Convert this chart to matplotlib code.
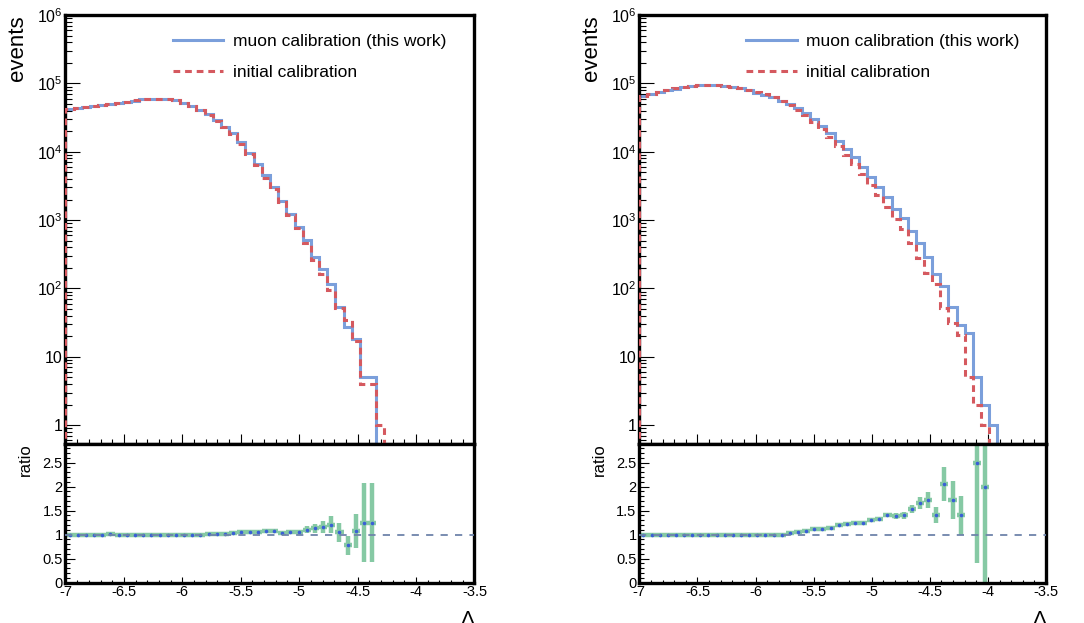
import numpy as np
import matplotlib
matplotlib.use('Agg')
import matplotlib.pyplot as plt
from matplotlib.lines import Line2D
from matplotlib.ticker import LogLocator, MultipleLocator, FuncFormatter, NullFormatter

plt.rcParams['font.family'] = ['Liberation Sans', 'DejaVu Sans']
plt.rcParams['axes.unicode_minus'] = False
plt.rcParams['mathtext.default'] = 'regular'

# 50 bins of 0.07 in Lambda
LAMBDA_RANGE = (-7.0, -3.5)
N_BINS = 50

# left panel: event counts per bin
left_muon = [41700, 43200, 44900, 46600, 48300, 50100, 52000, 54000, 56000, 58200,
             59700, 59600, 58600, 56900, 52500, 46700, 40800, 35300, 29200, 23300,
             18600, 13700, 9700, 6620, 4520, 3080, 1920, 1230, 800, 510,
             290, 190, 116, 54, 27, 18, 5, 5, 0, 0,
             0, 0, 0, 0, 0, 0, 0, 0, 0, 0]
left_initial = [41700, 43200, 44900, 46600, 48300, 49850, 52000, 54270, 56280, 58490,
                60000, 59600, 59190, 57190, 52500, 46700, 41000, 34950, 28630, 22840,
                18060, 12920, 9280, 6330, 4170, 2840, 1870, 1180, 766, 464,
                257, 164, 96, 52, 35, 17, 4, 4, 1, 0,
                0, 0, 0, 0, 0, 0, 0, 0, 0, 0]
left_ratio = [1.0, 1.0, 1.0, 1.0, 1.0, 1.005, 1.0, 0.995, 0.995, 0.995,
              0.995, 1.0, 0.99, 0.995, 1.0, 1.0, 0.995, 1.01, 1.02, 1.02,
              1.03, 1.06, 1.045, 1.045, 1.085, 1.085, 1.025, 1.045, 1.045, 1.1,
              1.13, 1.16, 1.21, 1.045, 0.78, 1.07, 1.25, 1.25, np.nan, np.nan,
              np.nan, np.nan, np.nan, np.nan, np.nan, np.nan, np.nan, np.nan, np.nan, np.nan]
left_ratio_err = [0.01, 0.01, 0.01, 0.01, 0.01, 0.01, 0.01, 0.01, 0.01, 0.01,
                  0.01, 0.01, 0.01, 0.01, 0.01, 0.01, 0.01, 0.01, 0.01, 0.012,
                  0.015, 0.018, 0.02, 0.025, 0.03, 0.03, 0.035, 0.04, 0.05, 0.07,
                  0.09, 0.12, 0.17, 0.2, 0.2, 0.36, 0.83, 0.83, 0, 0,
                  0, 0, 0, 0, 0, 0, 0, 0, 0, 0]

# right panel
right_muon = [64500, 70000, 75000, 79400, 84100, 88100, 91200, 94400, 95000, 93800,
              91600, 88700, 85100, 80300, 73400, 67900, 62700, 56000, 50100, 43300,
              36500, 30500, 24100, 18600, 14500, 10900, 8300, 5900, 4300, 3090,
              2200, 1440, 1060, 701, 457, 285, 161, 108, 54, 29,
              22, 5, 2, 1, 0, 0, 0, 0, 0, 0]
right_initial = [64500, 70700, 75000, 79400, 84950, 88990, 92120, 94870, 95480, 94270,
                 93000, 89600, 86400, 81100, 74140, 68930, 63330, 56000, 48880, 41440,
                 33950, 27350, 21520, 16320, 12080, 8860, 6640, 4760, 3280, 2320,
                 1560, 1040, 754, 458, 276, 166, 115, 52, 31, 21,
                 5, 2, 1, 0, 0, 0, 0, 0, 0, 0]
right_ratio = [1.0, 0.99, 1.0, 1.0, 0.99, 0.99, 0.99, 0.995, 0.995, 0.995,
               0.985, 0.99, 0.985, 0.99, 0.99, 0.985, 0.99, 1.0, 1.025, 1.045,
               1.075, 1.115, 1.12, 1.14, 1.2, 1.23, 1.25, 1.24, 1.31, 1.33,
               1.41, 1.38, 1.405, 1.53, 1.655, 1.72, 1.405, 2.06, 1.72, 1.4,
               np.nan, 2.5, 2.0, np.nan, np.nan, np.nan, np.nan, np.nan, np.nan, np.nan]
right_ratio_err = [0.01, 0.01, 0.01, 0.01, 0.01, 0.01, 0.01, 0.01, 0.01, 0.01,
                   0.01, 0.01, 0.01, 0.01, 0.01, 0.01, 0.01, 0.01, 0.012, 0.012,
                   0.014, 0.016, 0.018, 0.02, 0.025, 0.03, 0.03, 0.035, 0.04, 0.045,
                   0.05, 0.06, 0.07, 0.09, 0.125, 0.17, 0.17, 0.35, 0.39, 0.4,
                   0, 2.09, 2.45, 0, 0, 0, 0, 0, 0, 0]

BLUE = '#7b9fdb'
RED = '#d5595f'
GREEN = '#86c9a4'
DOT = '#3a5fd6'
REFLINE = '#6e84aa'
FRAME_LW = 2.4


def sup_label(v, pos):
    if v == 1:
        return '1'
    if v == 10:
        return '10'
    return '10$^{%d}$' % int(round(np.log10(v)))


def style_frame(ax):
    for sp in ax.spines.values():
        sp.set_linewidth(FRAME_LW)
    ax.tick_params(which='both', direction='in', top=False, right=False, width=0.8, colors='black')


def draw_panel(fig, left, width, muon, initial, ratio, ratio_err):
    edges = np.linspace(LAMBDA_RANGE[0], LAMBDA_RANGE[1], N_BINS + 1)
    centres = 0.5 * (edges[1:] + edges[:-1])
    half = 0.5 * (edges[1] - edges[0])

    ax = fig.add_axes([left, 0.2881, width, 0.6878])
    rx = fig.add_axes([left, 0.065, width, 0.2231], sharex=ax)

    # top: histograms
    ax.set_yscale('log', nonpositive='clip')
    ax.stairs(np.array(muon, float), edges, color=BLUE, lw=2.2, zorder=2)
    ax.stairs(np.array(initial, float), edges, color=RED, lw=2.2, ls=(0, (2.2, 1.6)), zorder=3)
    ax.set_xlim(*LAMBDA_RANGE)
    ax.set_ylim(0.54, 1e6)
    style_frame(ax)
    ax.yaxis.set_major_locator(LogLocator(base=10, numticks=10))
    ax.yaxis.set_minor_locator(LogLocator(base=10, subs=np.arange(2, 10), numticks=10))
    ax.yaxis.set_major_formatter(FuncFormatter(sup_label))
    ax.yaxis.set_minor_formatter(NullFormatter())
    ax.xaxis.set_major_locator(MultipleLocator(0.5))
    ax.xaxis.set_minor_locator(MultipleLocator(0.1))
    ax.tick_params(axis='y', which='major', length=10.5, labelsize=11.5, pad=2)
    ax.tick_params(axis='y', which='minor', length=4.8)
    ax.tick_params(axis='x', which='major', length=7, labelbottom=False)
    ax.tick_params(axis='x', which='minor', length=3.6)
    ax.text(-0.118, 1.0, 'events', rotation=90, ha='center', va='top',
            fontsize=16, transform=ax.transAxes)

    handles = [Line2D([], [], color=BLUE, lw=2.2),
               Line2D([], [], color=RED, lw=2.2, ls=(0, (2.2, 1.6)))]
    ax.legend(handles, ['muon calibration (this work)', 'initial calibration'],
              loc='upper left', bbox_to_anchor=(0.263, 0.955), frameon=False,
              fontsize=12.5, handlelength=2.9, handletextpad=0.55,
              labelspacing=0.9, borderpad=0, borderaxespad=0)

    # bottom: ratio
    ratio = np.array(ratio, float)
    ratio_err = np.array(ratio_err, float)
    keep = ~np.isnan(ratio)
    rx.errorbar(centres[keep], ratio[keep], yerr=ratio_err[keep], xerr=half,
                fmt='o', ms=1.6, mfc=DOT, mec=DOT, ecolor=GREEN, elinewidth=3.2,
                capsize=0, zorder=2)
    rx.axhline(1.0, color=REFLINE, lw=1.3, ls=(0, (4, 4)), zorder=3)
    rx.set_ylim(0, 2.9)
    style_frame(rx)
    rx.yaxis.set_major_locator(MultipleLocator(0.5))
    rx.yaxis.set_minor_locator(MultipleLocator(0.1))
    rx.yaxis.set_major_formatter(FuncFormatter(lambda v, p: '%g' % v))
    rx.xaxis.set_major_formatter(FuncFormatter(lambda v, p: '%g' % v))
    rx.tick_params(axis='y', which='major', length=7.5, labelsize=10.5, pad=2)
    rx.tick_params(axis='y', which='minor', length=3.6)
    rx.tick_params(axis='x', which='major', length=4, labelsize=10.5, pad=2)
    rx.tick_params(axis='x', which='minor', length=2.2)
    rx.text(-0.099, 1.0, 'ratio', rotation=90, ha='center', va='top',
            fontsize=12, transform=rx.transAxes)
    rx.text(0.984, -0.2, '\u039b', ha='center', va='top', fontsize=15,
            transform=rx.transAxes)
    return ax, rx


fig = plt.figure(figsize=(10.84, 6.23), dpi=100)
draw_panel(fig, 0.0604, 0.3773, left_muon, left_initial, left_ratio, left_ratio_err)
draw_panel(fig, 0.5898, 0.3752, right_muon, right_initial, right_ratio, right_ratio_err)
fig.savefig('out.png', dpi=100)
